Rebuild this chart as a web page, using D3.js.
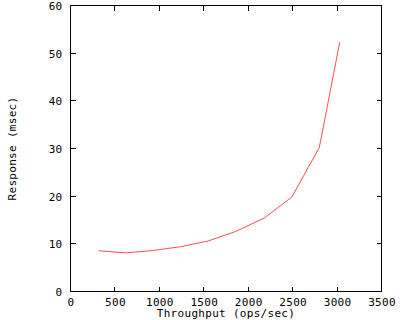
<!DOCTYPE html>
<html><head><meta charset="utf-8">
<script src="https://cdn.jsdelivr.net/npm/d3@7"></script>
<style>
html,body{margin:0;padding:0;background:#fff;}
svg text{font-family:"DejaVu Sans Mono",monospace;font-size:11px;fill:#000;letter-spacing:0.3px;}
</style></head>
<body>
<script>
const throughput = [318, 620, 930, 1240, 1550, 1860, 2180, 2490, 2800, 3030];
const response = [8.55, 8.1, 8.6, 9.4, 10.6, 12.6, 15.4, 19.8, 30.2, 52.3];
const xTicks = [0, 500, 1000, 1500, 2000, 2500, 3000, 3500];
const yTicks = [0, 10, 20, 30, 40, 50, 60];
const xTitle = "Throughput (ops/sec)";
const yTitle = "Response (msec)";

const W = 400, H = 320;
const L = 70.5, R = 381.5, T = 5.5, B = 291.5;
const svg = d3.select("body").append("svg").attr("width", W).attr("height", H);
const x = d3.scaleLinear().domain([0, 3500]).range([L, R]);
const y = d3.scaleLinear().domain([0, 60]).range([B, T]);
const fmt = d3.format("d");

const tk = 5;
const ax = svg.append("g").attr("shape-rendering", "crispEdges").attr("stroke", "#000");
xTicks.forEach(v => {
  if (v > 0 && v < 3500) {
    ax.append("line").attr("x1", x(v)).attr("x2", x(v)).attr("y1", B).attr("y2", B - tk);
    ax.append("line").attr("x1", x(v)).attr("x2", x(v)).attr("y1", T).attr("y2", T + tk);
  }
});
yTicks.forEach(v => {
  if (v > 0 && v < 60) {
    ax.append("line").attr("x1", L).attr("x2", L + tk).attr("y1", y(v)).attr("y2", y(v));
    ax.append("line").attr("x1", R).attr("x2", R - tk).attr("y1", y(v)).attr("y2", y(v));
  }
});

const xAxis = d3.axisBottom(x).tickValues(xTicks).tickFormat(fmt).tickSize(0).tickPadding(0);
const gx = svg.append("g").attr("transform", `translate(0,${B})`).call(xAxis);
gx.select(".domain").remove();
gx.selectAll("text").attr("y", 14).attr("dy", 0).attr("font-family", null).attr("font-size", null);

const yAxis = d3.axisLeft(y).tickValues(yTicks).tickFormat(fmt).tickSize(0).tickPadding(0);
const gy = svg.append("g").attr("transform", `translate(${L - 8},0)`).call(yAxis);
gy.select(".domain").remove();
gy.selectAll("text").attr("x", 0).attr("dy", "0.35em").attr("font-family", null).attr("font-size", null);

svg.append("rect").attr("x", L).attr("y", T).attr("width", R - L).attr("height", B - T)
  .attr("fill", "none").attr("stroke", "#000").attr("shape-rendering", "crispEdges");

const line = d3.line().x((d, i) => x(throughput[i])).y(d => y(d));
svg.append("path").datum(response).attr("d", line).attr("fill", "none")
  .attr("stroke", "#ff4d4d").attr("stroke-width", 1);

svg.append("text").attr("x", (L + R) / 2).attr("y", 317).attr("text-anchor", "middle").text(xTitle);
svg.append("text").attr("transform", `translate(16,${(T + B) / 2}) rotate(-90)`)
  .attr("text-anchor", "middle").text(yTitle);
</script>
</body></html>
